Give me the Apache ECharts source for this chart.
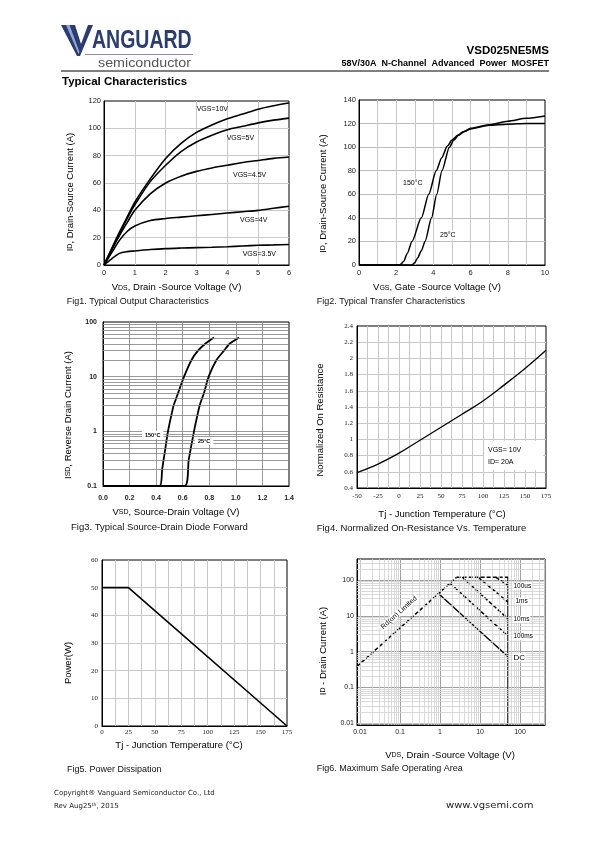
<!DOCTYPE html>
<html><head><meta charset="utf-8">
<script src="https://cdn.jsdelivr.net/npm/echarts@6/dist/echarts.min.js"></script>
<style>html,body{margin:0;padding:0;background:#fff}#c{width:595px;height:842px}</style>
</head><body><div id="c"></div>
<script>
// ---------- Fig1: Output characteristics ----------
const fig1X = [0,0.25,0.5,0.75,1,1.5,2,2.5,3,3.5,4,4.5,5,5.5,6];
const fig1Vgs10 = [0,12,24,35,46,63,78,89,97,102.5,107,110.5,114,116.5,118.5];
const fig1Vgs5  = [0,11.5,23,34,44,61,73,83,90,95,99,101.5,104,106,107.5];
const fig1Vgs45 = [0,11,21.5,31,40,52,60,65,68.5,71,73,75,76.5,78,79];
const fig1Vgs4  = [0,9,18,24.5,28.5,32.5,34,35,36,37,38,39,40,41.5,43];
const fig1Vgs35 = [0,4.5,8.5,9.8,10.3,11.3,12,12.4,12.7,13,13.4,13.9,14.4,14.7,15];
const fig1Labels = ['VGS=10V','VGS=5V','VGS=4.5V','VGS=4V','VGS=3.5V'];

// ---------- Fig2: Transfer characteristics ----------
const fig2X150 = [0,2.2,2.4,2.6,2.85,3.35,3.75,4.15,4.45,4.75,5.0,5.3,5.6,6,7,8,9,10];
const fig2Y150 = [0,0,3,10,20,40,60,80,91,101,106,110,113,116,119,122,124.5,126.5];
const fig2X25  = [0,2.85,3.0,3.15,3.35,3.55,3.9,4.18,4.46,4.86,5.1,5.35,5.7,6,7,8,9,10];
const fig2Y25  = [0,0,2,6,12,20,40,60,80,100,106,110,113.5,115.5,118.5,119.5,120,120];

// ---------- Fig3: Source-drain diode forward ----------
const fig3X150 = [0,0.426,0.445,0.47,0.489,0.515,0.532,0.565,0.61,0.665,0.715,0.77,0.835];
const fig3Y150 = [0.1,0.1,0.2,0.5,1,2,3,5,10,20,30,40,52];
const fig3X25  = [0,0.615,0.645,0.685,0.728,0.76,0.795,0.853,0.911,0.953,1.024];
const fig3Y25  = [0.1,0.1,0.3,1,3,5,10,20,30,40,52];

// ---------- Fig4: Normalized on-resistance ----------
const fig4X = [-50,-25,0,25,50,75,100,125,150,175];
const fig4Y = [0.59,0.695,0.83,0.99,1.15,1.31,1.475,1.67,1.875,2.1];

// ---------- Fig5: Power dissipation ----------
const fig5X = [0,25,175];
const fig5Y = [50,50,0];

// ---------- Fig6: Safe operating area ----------
const fig6Rds   = [[0.0084,0.385],[2.6,119]];
const fig6Top   = [[2.6,119],[50,119]];
const fig6Vmax  = [[50,119],[50,0.0089]];
const fig6Us100 = [[25,119],[50,70]];
const fig6Ms1   = [[9,119],[50,24]];
const fig6Ms10  = [[3.6,119],[50,8.2]];
const fig6Ms100 = [[1.78,81],[50,2.7]];
const fig6Dc    = [[0.91,42],[50,0.72]];
const fig6Labels = ['100us','1ms','10ms','100ms','DC'];

const zip = (xs, ys) => xs.map((x,i)=>[x, ys[i]]);

function logMinors(kFrom, kTo, lo, hi){
  const out=[];
  for(let k=kFrom;k<=kTo;k++){ for(let m=2;m<=9;m++){ const v=+(m*Math.pow(10,k)).toPrecision(6); if(v>lo&&v<hi) out.push(v);} }
  return out;
}

const SANS='Liberation Sans', SERIF='Liberation Serif';
function xA(gi,o){
  return Object.assign({gridIndex:gi,type:'value',
    axisLine:{show:true,onZero:false,lineStyle:{color:'#000',width:1}},
    axisTick:{show:false},
    splitLine:{show:true,showMinLine:false,showMaxLine:false,lineStyle:{color:'#c8c8c8',width:1}},
    axisLabel:{color:'#222',fontSize:7,fontFamily:SANS,margin:4}},o);
}
const grids=[
  {left:104,top:101,width:185,height:164},
  {left:359,top:100,width:186,height:165},
  {left:103,top:322,width:186,height:164},
  {left:357,top:326,width:189,height:162},
  {left:102,top:560,width:185,height:166},
  {left:357,top:559,width:188,height:166}
].map(g=>Object.assign({show:true,borderColor:'#000',borderWidth:1,backgroundColor:'transparent',containLabel:false},g));

const xAxis=[
  xA(0,{min:0,max:6,interval:1,axisLabel:{color:'#222',fontSize:7.5,fontFamily:SANS,margin:4}}),
  xA(1,{min:0,max:10,interval:1,axisLabel:{color:'#222',fontSize:7.5,fontFamily:SANS,margin:4,formatter:v=>(Math.round(v)%2===0?String(Math.round(v)):'')}}),
  xA(2,{min:0,max:1.4,interval:0.2,splitLine:{show:true,showMinLine:false,showMaxLine:false,lineStyle:{color:'#808080',width:0.8}},
        axisLabel:{color:'#222',fontSize:7,fontFamily:SANS,fontWeight:'bold',margin:9,formatter:v=>v.toFixed(1)}}),
  xA(3,{min:-50,max:175,interval:12.5,axisLabel:{color:'#222',fontSize:7,fontFamily:SERIF,margin:5,formatter:v=>(v%25===0?String(v):'')}}),
  xA(4,{min:0,max:175,interval:12.5,axisLabel:{color:'#222',fontSize:7,fontFamily:SERIF,margin:3,formatter:v=>(v%25===0?String(v):'')}}),
  xA(5,{type:'log',logBase:10,min:0.0084,max:420,splitLine:{show:true,showMinLine:false,showMaxLine:false,lineStyle:{color:'#a0a0a0',width:1}},
        axisLabel:{color:'#222',fontSize:7,fontFamily:SANS,margin:4,showMinLabel:false,showMaxLabel:false,formatter:v=>String(+(+v).toPrecision(4))}})
];
const yAxis=[
  xA(0,{min:0,max:120,interval:20,axisLabel:{color:'#222',fontSize:7.5,fontFamily:SANS,margin:3}}),
  xA(1,{min:0,max:140,interval:20,splitLine:{show:true,showMinLine:false,showMaxLine:false,lineStyle:{color:'#bdbdbd',width:1}},axisLabel:{color:'#222',fontSize:7.5,fontFamily:SANS,margin:3}}),
  xA(2,{type:'log',logBase:10,min:0.1,max:100,splitLine:{show:true,showMinLine:false,showMaxLine:false,lineStyle:{color:'#808080',width:0.8}},
        axisLabel:{color:'#222',fontSize:7,fontFamily:SANS,fontWeight:'bold',margin:6,formatter:v=>String(+(+v).toPrecision(4))}}),
  xA(3,{min:0.4,max:2.4,interval:0.2,axisLabel:{color:'#222',fontSize:7,fontFamily:SERIF,margin:4,formatter:v=>String(+v.toFixed(1))}}),
  xA(4,{min:0,max:60,interval:10,axisLabel:{color:'#222',fontSize:7,fontFamily:SERIF,margin:4}}),
  xA(5,{type:'log',logBase:10,min:0.0089,max:386,splitLine:{show:true,showMinLine:false,showMaxLine:false,lineStyle:{color:'#a0a0a0',width:1}},
        axisLabel:{color:'#222',fontSize:7,fontFamily:SANS,margin:3,showMinLabel:false,showMaxLabel:false,formatter:v=>String(+(+v).toPrecision(4))}})
];

function L(gi,data,o){
  return Object.assign({type:'line',xAxisIndex:gi,yAxisIndex:gi,data,symbol:'none',showSymbol:false,
    lineStyle:{color:'#000',width:1.5},silent:true,animation:false,z:3},o||{});
}
function GL(gi,axis,vals,color,width){
  return {type:'line',xAxisIndex:gi,yAxisIndex:gi,data:[],silent:true,z:1,animation:false,
    markLine:{silent:true,symbol:['none','none'],label:{show:false},animation:false,
      lineStyle:{type:'solid',color,width},emphasis:{disabled:true},
      data:vals.map(v=>axis==='x'?{xAxis:v}:{yAxis:v})}};
}
const sm={smooth:0.3};
const dash={lineStyle:{color:'#000',width:1.5,type:[4,2]}};
const series=[
  L(0,zip(fig1X,fig1Vgs10),Object.assign({lineStyle:{color:'#000',width:1.6}},sm)),
  L(0,zip(fig1X,fig1Vgs5),Object.assign({lineStyle:{color:'#000',width:1.6}},sm)),
  L(0,zip(fig1X,fig1Vgs45),Object.assign({lineStyle:{color:'#000',width:1.6}},sm)),
  L(0,zip(fig1X,fig1Vgs4),Object.assign({lineStyle:{color:'#000',width:1.6}},sm)),
  L(0,zip(fig1X,fig1Vgs35),Object.assign({lineStyle:{color:'#000',width:1.6}},sm)),
  L(1,zip(fig2X150,fig2Y150),{smooth:0.25,smoothMonotone:'x'}),
  L(1,zip(fig2X25,fig2Y25),{smooth:0.25,smoothMonotone:'x'}),
  GL(2,'y',logMinors(-1,1,0.1,100),'#808080',0.8),
  L(2,zip(fig3X150,fig3Y150),{smooth:0.2,lineStyle:{color:'#000',width:1.8}}),
  L(2,zip(fig3X25,fig3Y25),{smooth:0.2,lineStyle:{color:'#000',width:1.8}}),
  L(3,zip(fig4X,fig4Y),{smooth:0.4,lineStyle:{color:'#000',width:1.3}}),
  L(4,zip(fig5X,fig5Y),{lineStyle:{color:'#000',width:1.6}}),
  GL(5,'x',logMinors(-3,2,0.0084,420),'#d0d0d0',0.8),
  GL(5,'y',logMinors(-3,2,0.0089,386),'#d0d0d0',0.8),
  L(5,fig6Rds,dash),
  L(5,fig6Top,dash),
  L(5,fig6Vmax,{lineStyle:{color:'#000',width:1.5}}),
  L(5,fig6Us100,dash),
  L(5,fig6Ms1,dash),
  L(5,fig6Ms10,dash),
  L(5,fig6Ms100,dash),
  L(5,fig6Dc,{lineStyle:{color:'#000',width:1.4}})
];

// ---------- text / decoration ----------
function T(x,y,text,o){
  o=o||{};
  const st={text,fill:o.color||'#000',fontSize:o.size||9,fontFamily:o.family||SANS,fontWeight:o.bold?'bold':'normal',
    align:o.align||'left',verticalAlign:'middle'};
  if(o.rich) st.rich=o.rich;
  if(o.bg){st.backgroundColor=o.bg;st.padding=o.pad||[0,2];}
  return {type:'text',x,y,rotation:o.rot||0,scaleX:o.sx||1,z:50,silent:true,style:st};
}
const nameRich={n:{fontSize:9.5,fontFamily:SANS,fill:'#000'},s:{fontSize:7,fontFamily:SANS,fill:'#000'}};
const NM=(x,y,t,rot)=>T(x,y,t,{align:'center',rot:rot?Math.PI/2:0,rich:nameRich});
const CAP=(x,y,t,size)=>T(x,y,t,{size:size||9,color:'#111'});

const graphic=[
  // logo
  {type:'polygon',z:50,silent:true,shape:{points:[[61,25],[75,25],[81,44],[88,25],[93,25],[80,56],[77,56]]},style:{fill:'#2c3b70'}},
  {type:'polygon',z:51,silent:true,shape:{points:[[66,25],[69.5,25],[79.5,52],[78.5,54]]},style:{fill:'#8fa6d8'}},
  T(92,41.5,'ANGUARD',{size:25,bold:true,color:'#2c3b70',sx:0.78}),
  {type:'line',z:50,silent:true,shape:{x1:85,y1:54.5,x2:193,y2:54.5},style:{stroke:'#8890b8',lineWidth:1}},
  T(98,63.5,'semiconductor',{size:13,color:'#555',sx:1.1}),
  T(549,50.7,'VSD025NE5MS',{size:11.5,bold:true,align:'right'}),
  T(549,63.7,'58V/30A  N-Channel  Advanced  Power  MOSFET',{size:9,bold:true,align:'right'}),
  {type:'line',z:50,silent:true,shape:{x1:61,y1:71,x2:549,y2:71},style:{stroke:'#000',lineWidth:1}},
  T(62,82,'Typical Characteristics',{size:11.5,bold:true}),
  // fig1
  NM(70,192,'{n|I}{s|D}{n|, Drain-Source Current (A)}',true),
  NM(176.5,287.7,'{n|V}{s|DS}{n|, Drain -Source Voltage (V)}'),
  CAP(66.7,301.7,'Fig1. Typical Output Characteristics'),
  T(196.7,109,fig1Labels[0],{size:7}),
  T(226.7,138,fig1Labels[1],{size:7}),
  T(233,175,fig1Labels[2],{size:7}),
  T(240,220,fig1Labels[3],{size:7}),
  T(242.7,254,fig1Labels[4],{size:7}),
  // fig2
  NM(323,193.5,'{n|I}{s|D}{n|, Drain-Source Current (A)}',true),
  NM(437,287.7,'{n|V}{s|GS}{n|, Gate -Source Voltage (V)}'),
  CAP(316.7,301.7,'Fig2. Typical Transfer Characteristics'),
  T(402,183,'150°C',{size:7,bg:'#fff',pad:[1,1]}),
  T(439,235,'25°C',{size:7,bg:'#fff',pad:[1,1]}),
  // fig3
  NM(68,415,'{n|I}{s|SD}{n|, Reverse Drain Current (A)}',true),
  NM(176,512,'{n|V}{s|SD}{n|, Source-Drain Voltage (V)}'),
  CAP(71,527.7,'Fig3. Typical Source-Drain Diode Forward',9.5),
  T(142,435,'150°C',{size:5.5,bold:true,bg:'#fff',pad:[1,3]}),
  T(195,441,'25°C',{size:5.5,bold:true,bg:'#fff',pad:[1,3]}),
  // fig4
  NM(320,420,'{n|Normalized On Resistance}',true),
  NM(442,514,'{n|Tj - Junction Temperature (°C)}'),
  CAP(316.7,528,'Fig4. Normalized On-Resistance Vs. Temperature',9.5),
  {type:'rect',z:45,silent:true,shape:{x:484,y:441,width:59,height:29},style:{fill:'#fff'}},
  T(488,450,'VGS= 10V',{size:7}),
  T(488,461.7,'ID= 20A',{size:7}),
  // fig5
  NM(68,663,'{n|Power(W)}',true),
  NM(179,745,'{n|Tj - Junction Temperature (°C)}'),
  CAP(67,770,'Fig5. Power Dissipation'),
  // fig6
  NM(323,651,'{n|I}{s|D}{n| - Drain Current (A)}',true),
  NM(450,755,'{n|V}{s|DS}{n|, Drain -Source Voltage (V)}'),
  CAP(316.7,769,'Fig6. Maximum Safe Operating Area'),
  T(399,612.7,'Rd(on) Limited',{size:7,bg:'#fff',pad:[0,2],align:'center',rot:42*Math.PI/180}),
  T(512.5,586,fig6Labels[0],{size:6.5,bg:'#fff',pad:[0,1]}),
  T(514.5,601,fig6Labels[1],{size:6.5,bg:'#fff',pad:[0,1]}),
  T(512.5,619.3,fig6Labels[2],{size:6.5,bg:'#fff',pad:[0,1]}),
  T(512.5,636.7,fig6Labels[3],{size:6.5,bg:'#fff',pad:[0,1]}),
  T(512.5,657.3,fig6Labels[4],{size:8,bg:'#fff',pad:[0,1]}),
  // footer
  T(54,793,'Copyright® Vanguard Semiconductor Co., Ltd',{size:7,family:'DejaVu Sans',color:'#222'}),
  T(54,806,'{a|Rev Aug25}{b|th}{a|, 2015}',{size:7,family:'DejaVu Sans',color:'#222',
     rich:{a:{fontSize:7,fontFamily:'DejaVu Sans',fill:'#222'},b:{fontSize:4.5,fontFamily:'DejaVu Sans',fill:'#222',verticalAlign:'top',padding:[0,0,3,0]}}}),
  T(446,805.7,'www.vgsemi.com',{size:8,family:'DejaVu Sans',color:'#222',sx:1.25})
];

const chart=echarts.init(document.getElementById('c'),null,{renderer:'canvas',width:595,height:842});
chart.setOption({animation:false,backgroundColor:'#fff',grid:grids,xAxis,yAxis,series,graphic});
</script></body></html>
